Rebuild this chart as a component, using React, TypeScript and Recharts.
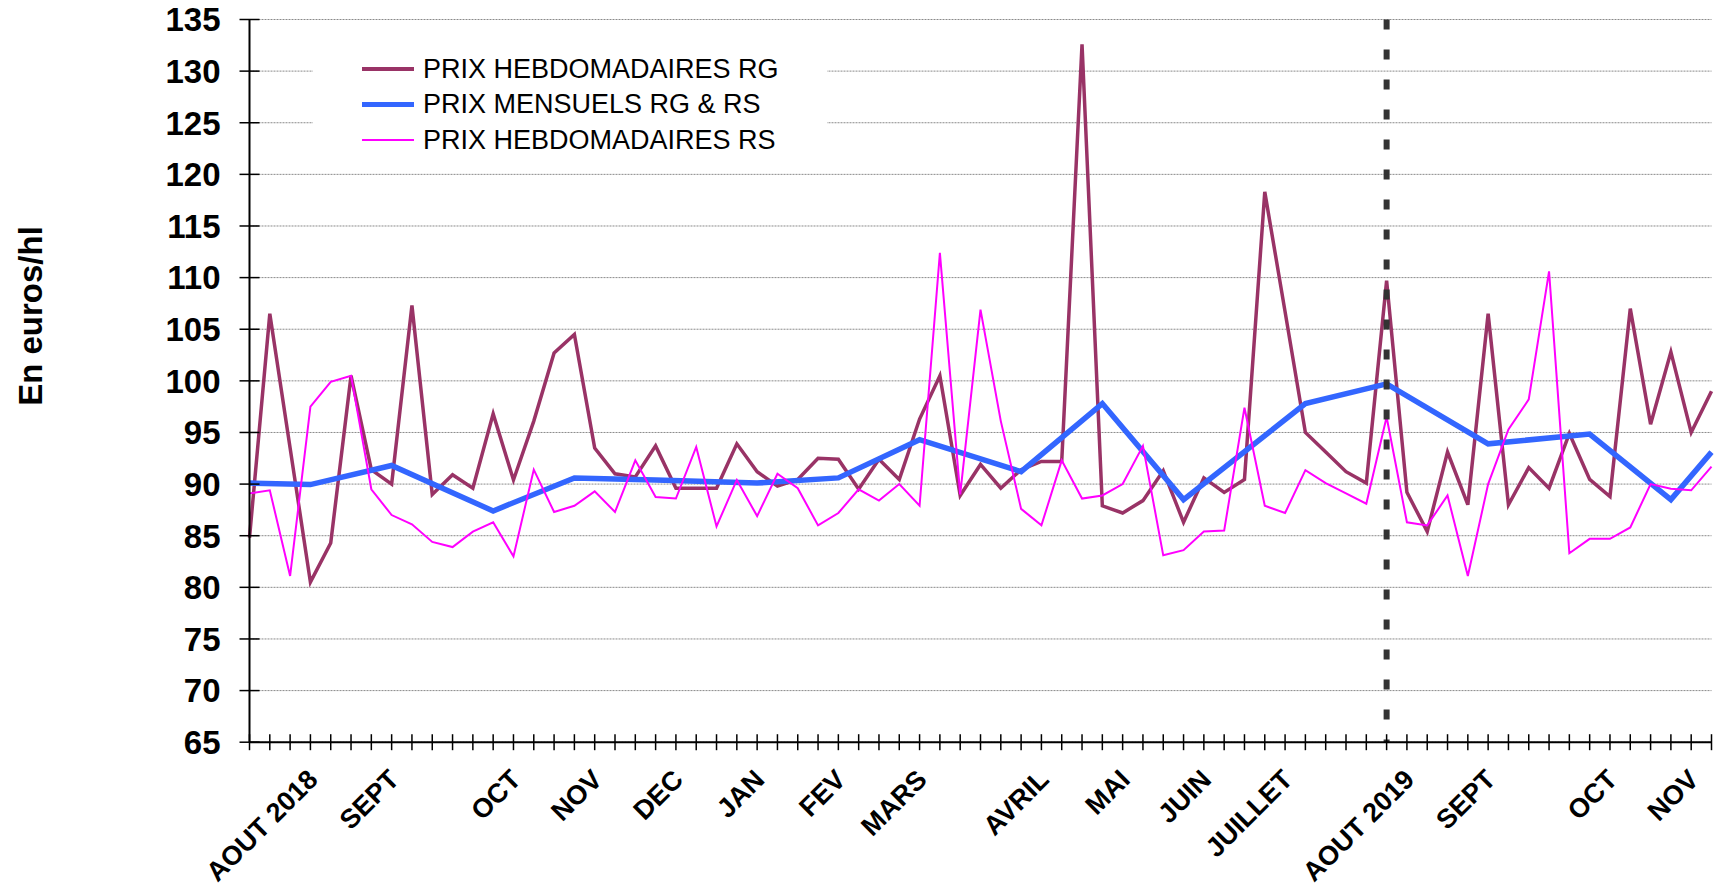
import { LineChart, Line, XAxis, YAxis, CartesianGrid, ReferenceLine, Legend } from "recharts";

// weekly prices, one value per week from early Aug 2018 to late Nov 2019
const weeklyRG = [
  84.8, 106.5, 93.5, 80.5, 84.3, 100.5, 91.4, 90.0, 107.3, 89.0,
  90.9, 89.6, 96.8, 90.4, 96.1, 102.7, 104.5, 93.5, 91.0, 90.7,
  93.7, 89.6, 89.6, 89.6, 93.9, 91.2, 89.8, 90.45, 92.5, 92.4,
  89.5, 92.4, 90.45, 96.3, 100.5, 88.9, 91.9, 89.6, 91.4, 92.2,
  92.2, 132.6, 87.9, 87.2, 88.4, 91.3, 86.3, 90.6, 89.2, 90.45,
  118.3, 106.7, 95.0, 93.1, 91.2, 90.1, 109.7, 89.2, 85.4, 93.1,
  88.0, 106.5, 88.0, 91.6, 89.6, 94.9, 90.45, 88.8, 107.0, 95.8,
  102.8, 95.0, 99.0,
];

const weeklyRS = [
  89.1, 89.4, 81.1, 97.5, 99.9, 100.5, 89.5, 87.0, 86.1, 84.4,
  83.9, 85.4, 86.3, 83.0, 91.4, 87.3, 87.9, 89.3, 87.3, 92.3,
  88.75, 88.6, 93.6, 85.9, 90.4, 86.9, 91.0, 89.6, 86.0, 87.2,
  89.5, 88.4, 90.0, 87.9, 112.4, 89.0, 106.9, 96.1, 87.6, 86.0,
  92.3, 88.6, 88.9, 90.0, 93.7, 83.1, 83.6, 85.4, 85.5, 97.4,
  87.9, 87.2, 91.35, 90.1, 89.1, 88.1, 96.5, 86.3, 86.0, 88.9,
  81.1, 90.0, 95.3, 98.2, 110.6, 83.3, 84.7, 84.7, 85.8, 90.0,
  89.55, 89.4, 91.7,
];

// monthly price (RG & RS), placed on the week it belongs to
const monthlyWeek = [0, 3, 7, 12, 16, 20, 25, 29, 33, 38, 42, 46, 52, 56, 61, 66, 70, 72];
const monthlyPrice = [90.1, 89.95, 91.8, 87.4, 90.6, 90.4, 90.1, 90.6, 94.3, 91.2, 97.8, 88.5, 97.8, 99.7, 93.9, 94.85, 88.5, 93.1];

const monthLabels = ["AOUT 2018", "SEPT", "OCT", "NOV", "DEC", "JAN", "FEV", "MARS", "AVRIL", "MAI", "JUIN", "JUILLET", "AOUT 2019", "SEPT", "OCT", "NOV"];
const monthLabelWeek = [3, 7, 13, 17, 21, 25, 29, 33, 39, 43, 47, 51, 57, 61, 67, 71];

const yTicks = [65, 70, 75, 80, 85, 90, 95, 100, 105, 110, 115, 120, 125, 130, 135];
const newCampaignWeek = 56;

const FONT = "'Liberation Sans', Arial, Helvetica, sans-serif";

const series = [
  { key: "rg", name: "PRIX HEBDOMADAIRES RG", color: "#993366", width: 3.5 },
  { key: "m", name: "PRIX MENSUELS RG & RS", color: "#3366FF", width: 5.5 },
  { key: "rs", name: "PRIX HEBDOMADAIRES RS", color: "#FF00FF", width: 2 },
];

const data = weeklyRG.map((v, i) => {
  const k = monthlyWeek.indexOf(i);
  return { i, rg: v, rs: weeklyRS[i], m: k >= 0 ? monthlyPrice[k] : null };
});

function XTick({ x, y, payload }: any) {
  const k = monthLabelWeek.indexOf(payload.value);
  const lx = x + 9;
  const ly = y + 39;
  return (
    <g>
      <line x1={x} x2={x} y1={y - 8} y2={y + 8} stroke="#000" strokeWidth={1.5} />
      {k >= 0 && (
        <text
          x={lx}
          y={ly}
          transform={`rotate(-45 ${lx} ${ly})`}
          textAnchor="end"
          fontFamily={FONT}
          fontWeight="bold"
          fontSize={27}
          fill="#000"
        >
          {monthLabels[k]}
        </text>
      )}
    </g>
  );
}

function YTick({ x, y, payload }: any) {
  return (
    <g>
      <line x1={x - 10} x2={x + 10} y1={y} y2={y} stroke="#000" strokeWidth={1.5} />
      <text x={x - 29} y={y} dy="0.36em" textAnchor="end" fontFamily={FONT} fontWeight="bold" fontSize={33} fill="#000">
        {payload.value}
      </text>
    </g>
  );
}

function LegendBox() {
  return (
    <div style={{ background: "#fff", width: 514, height: 120, position: "relative", fontFamily: FONT, fontSize: 27, color: "#000" }}>
      {series.map((s, k) => (
        <div
          key={s.key}
          style={{ position: "absolute", left: 0, top: 27 + k * 35.5 - 17, height: 34, display: "flex", alignItems: "center" }}
        >
          <div style={{ marginLeft: 49, width: 52, height: s.width, background: s.color }} />
          <span style={{ marginLeft: 9, lineHeight: 1, whiteSpace: "nowrap" }}>{s.name}</span>
        </div>
      ))}
    </div>
  );
}

export default function App() {
  return (
    <div style={{ position: "absolute", left: 0, top: 0, background: "#fff" }}>
      <LineChart width={1717} height={887} data={data} margin={{ top: 19.5, right: 5.5, left: 0, bottom: 0 }}>
        <CartesianGrid vertical={false} stroke="#8a8a8a" strokeDasharray="2 1" strokeWidth={1} />
        <XAxis
          dataKey="i"
          type="category"
          interval={0}
          height={144.8}
          tickSize={0}
          tickMargin={0}
          tick={<XTick />}
          axisLine={{ stroke: "#000", strokeWidth: 2 }}
          tickLine={false}
        />
        <YAxis
          type="number"
          domain={[65, 135]}
          ticks={yTicks}
          interval={0}
          width={249.5}
          tickSize={0}
          tickMargin={0}
          tick={<YTick />}
          axisLine={{ stroke: "#000", strokeWidth: 2 }}
          tickLine={false}
          label={{
            content: () => (
              <text
                x={42}
                y={316}
                transform="rotate(-90 42 316)"
                textAnchor="middle"
                fontFamily={FONT}
                fontWeight="bold"
                fontSize={33}
                fill="#000"
              >
                En euros/hl
              </text>
            ),
          }}
        />
        <Legend
          layout="vertical"
          align="center"
          verticalAlign="middle"
          content={() => <LegendBox />}
          wrapperStyle={{ left: 313, top: 42, width: 514, height: 120 }}
        />
        {series.map((s) => (
          <Line
            key={s.key}
            dataKey={s.key}
            name={s.name}
            stroke={s.color}
            strokeWidth={s.width}
            dot={false}
            activeDot={false}
            connectNulls
            isAnimationActive={false}
            strokeLinejoin="miter"
          />
        ))}
        <ReferenceLine
          segment={[
            { x: newCampaignWeek, y: 135 },
            { x: newCampaignWeek, y: 65 },
          ]}
          stroke="#333"
          strokeWidth={6}
          strokeDasharray="10 20"
        />
      </LineChart>
    </div>
  );
}
